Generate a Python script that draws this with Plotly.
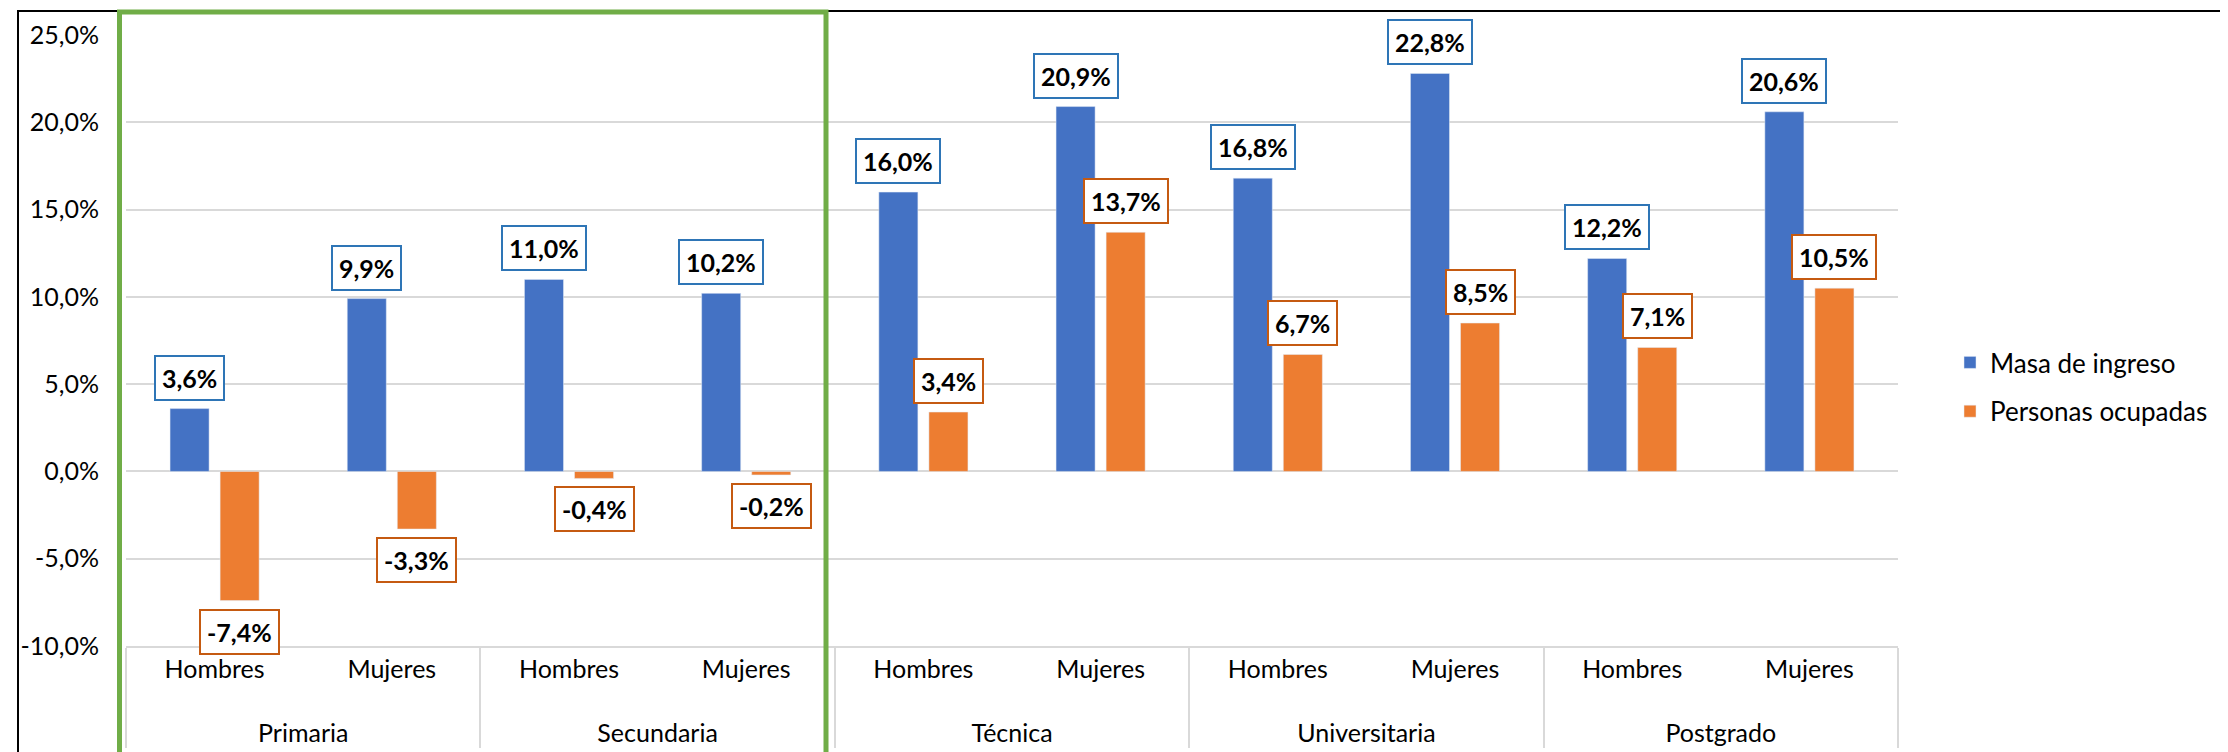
import plotly.graph_objects as go

# ---- data ----
niveles = ["Primaria", "Secundaria", "Técnica", "Universitaria", "Postgrado"]
sexos = ["Hombres", "Mujeres"]
masa_ingreso = [3.6, 9.9, 11.0, 10.2, 16.0, 20.9, 16.8, 22.8, 12.2, 20.6]
personas_ocupadas = [-7.4, -3.3, -0.4, -0.2, 3.4, 13.7, 6.7, 8.5, 7.1, 10.5]
y_ticks = [-10, -5, 0, 5, 10, 15, 20, 25]
series_names = ["Masa de ingreso", "Personas ocupadas"]

# ---- layout constants ----
W, H = 2228, 752
L, R, T, B = 118, 338, 27, 114
BARGAP = 0.435
BARGROUPGAP = 0.22
FONT = "Lato, 'Open Sans', sans-serif"
BLUE, ORANGE = "#4472C4", "#ED7D31"
BLUE_B, ORANGE_B = "#2E75B6", "#C55A11"
GRID = "#D9D9D9"


def fmt(v):
    return f"{v:.1f}".replace(".", ",") + "%"


lvl1 = [n for n in niveles for _ in sexos]
# inner labels carry an empty second line to space the two label rows like the original
lvl2 = [s + "<br>\u00a0" for _ in niveles for s in sexos]

fig = go.Figure()
fig.add_trace(go.Bar(x=[lvl1, lvl2], y=masa_ingreso, name=series_names[0],
                     marker_color=BLUE, legendgroup="a"))
fig.add_trace(go.Bar(x=[lvl1, lvl2], y=personas_ocupadas, name=series_names[1],
                     marker_color=ORANGE, legendgroup="b"))

# helper invisible trace for numeric overlay axis used by label annotations
idx = list(range(len(lvl2)))
fig.add_trace(go.Scatter(x=idx, y=masa_ingreso, xaxis="x2", mode="markers",
                         marker=dict(opacity=0), showlegend=False, hoverinfo="skip"))

off = (1 - BARGAP) / 4
annotations = []
for series, sign, bcol in [(masa_ingreso, -1, BLUE_B), (personas_ocupadas, 1, ORANGE_B)]:
    for i, v in enumerate(series):
        pos = v >= 0
        annotations.append(dict(
            x=i + sign * off, y=v, xref="x2", yref="y",
            text=fmt(v), showarrow=False,
            yanchor="bottom" if pos else "top",
            yshift=8 if pos else -8,
            font=dict(family=FONT, size=25, color="#000000", weight="bold"),
            bordercolor=bcol, borderwidth=2, borderpad=6, bgcolor="white",
        ))

pw = W - L - R
ph = H - T - B


def px_x(px):
    return (px - L) / pw


def px_y(py):
    return (H - B - py) / ph


shapes = [
    # outer black border (chart frame)
    dict(type="rect", xref="paper", yref="paper",
         x0=px_x(10), x1=px_x(2222), y0=px_y(775), y1=px_y(3),
         line=dict(color="#000000", width=2), fillcolor="rgba(0,0,0,0)", layer="above"),
    # green highlight rectangle
    dict(type="rect", xref="paper", yref="paper",
         x0=px_x(111.5), x1=px_x(818), y0=px_y(780), y1=px_y(4),
         line=dict(color="#70AD47", width=5), fillcolor="rgba(0,0,0,0)", layer="above"),
]

fig.update_layout(
    width=W, height=H,
    margin=dict(l=L, r=R, t=T, b=B, pad=0),
    paper_bgcolor="white", plot_bgcolor="white",
    barmode="group", bargap=BARGAP, bargroupgap=BARGROUPGAP,
    separators=",.",
    font=dict(family=FONT, size=25, color="#000000"),
    xaxis=dict(type="multicategory", showgrid=False, showline=True, linecolor=GRID,
               linewidth=1.5, showdividers=True, dividercolor=GRID, dividerwidth=1.5,
               ticks="", tickfont=dict(size=25, color="#000000")),
    xaxis2=dict(overlaying="x", range=[-0.5, len(lvl2) - 0.5], visible=False),
    yaxis=dict(range=[-10, 25], tickmode="array", tickvals=y_ticks,
               ticktext=[fmt(v) for v in y_ticks],
               showgrid=True, gridcolor=GRID, gridwidth=1.5, zeroline=True,
               zerolinecolor=GRID, zerolinewidth=1.5, showline=False, ticks="",
               ticklabelstandoff=26, tickfont=dict(size=25, color="#000000")),
    legend=dict(x=px_x(1942), xanchor="left", y=px_y(379), yanchor="middle",
                font=dict(size=26, color="#000000"), tracegroupgap=12,
                bgcolor="rgba(0,0,0,0)"),
    annotations=annotations,
    shapes=shapes,
    showlegend=True,
)

fig.write_html("out.html")
